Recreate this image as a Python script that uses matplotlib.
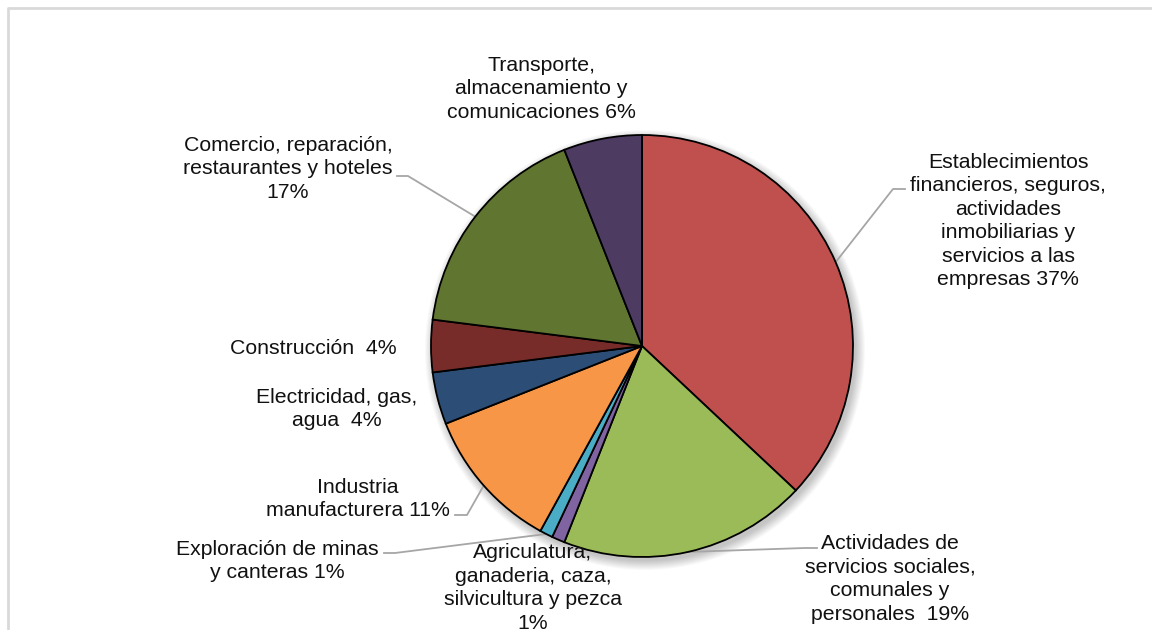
import matplotlib.pyplot as plt
from matplotlib.patches import Circle
import numpy as np

plt.rcParams['font.family'] = ['Liberation Sans', 'DejaVu Sans']

# participación por rama de actividad, en sentido horario desde arriba
sectores = [
    'Establecimientos\nfinancieros, seguros,\nactividades\ninmobiliarias y\nservicios a las\nempresas',
    'Actividades de\nservicios sociales,\ncomunales y\npersonales ',
    'Agriculatura,\nganaderia, caza,\nsilvicultura y pezca\n',
    'Exploración de minas\ny canteras',
    'Industria\nmanufacturera',
    'Electricidad, gas,\nagua ',
    'Construcción ',
    'Comercio, reparación,\nrestaurantes y hoteles\n',
    'Transporte,\nalmacenamiento y\ncomunicaciones',
]
porcentajes = [37, 19, 1, 1, 11, 4, 4, 17, 6]
colores = ['#C0504D', '#9BBB59', '#8064A2', '#4BACC6', '#F79646',
           '#2C4D75', '#772C2A', '#5F7530', '#4D3B62']

# posiciones de las etiquetas (px) y quiebre de las líneas guía
pos_etiquetas = [(1008, 221), (890, 579), (533, 588), (277, 561), (358, 499),
                 (337, 409), (313, 348), (288, 169), (541, 89)]
guias = {
    0: [(893, 189), (905, 189)],
    1: [(805, 548), (817, 548)],
    3: [(395, 553), (384, 553)],
    4: [(467, 515), (455, 515)],
    7: [(408, 176), (397, 176)],
}

cx, cy, r = 642, 346, 211

fig = plt.figure(figsize=(11.52, 6.3), dpi=100)
ax = fig.add_axes([0, 0, 1, 1])

# sombra difusa bajo el gráfico
for i in range(10):
    ax.add_patch(Circle((cx + 3, cy + 4), r + 9 - i, color='black', alpha=0.025, lw=0, zorder=0))

ax.pie(porcentajes, colors=colores, startangle=-90, counterclock=True,
       center=(cx, cy), radius=r,
       wedgeprops=dict(edgecolor='black', linewidth=1.3, zorder=2))

ax.set_xlim(0, 1152)
ax.set_ylim(630, 0)
ax.axis('off')

# líneas guía desde el punto medio del arco de cada sector
acum = np.cumsum([0] + porcentajes) / sum(porcentajes)
for i, puntos in guias.items():
    medio = (acum[i] + acum[i + 1]) / 2
    th = np.deg2rad(-90 + 360 * medio)
    xs = [cx + r * np.cos(th)] + [p[0] for p in puntos]
    ys = [cy + r * np.sin(th)] + [p[1] for p in puntos]
    ax.plot(xs, ys, color='#A6A6A6', lw=1.3, zorder=1)

for nombre, pct, (x, y) in zip(sectores, porcentajes, pos_etiquetas):
    sep = '' if nombre.endswith('\n') else ' '
    ax.text(x, y, f'{nombre}{sep}{pct}%', ha='center', va='center',
            fontsize=15.3, color='#111111', linespacing=1.3, zorder=3)

# marco del área del gráfico
ax.plot([8, 8, 1152], [630, 8, 8], color='#D9D9D9', lw=2, zorder=0)

fig.savefig('out.png', dpi=100)
